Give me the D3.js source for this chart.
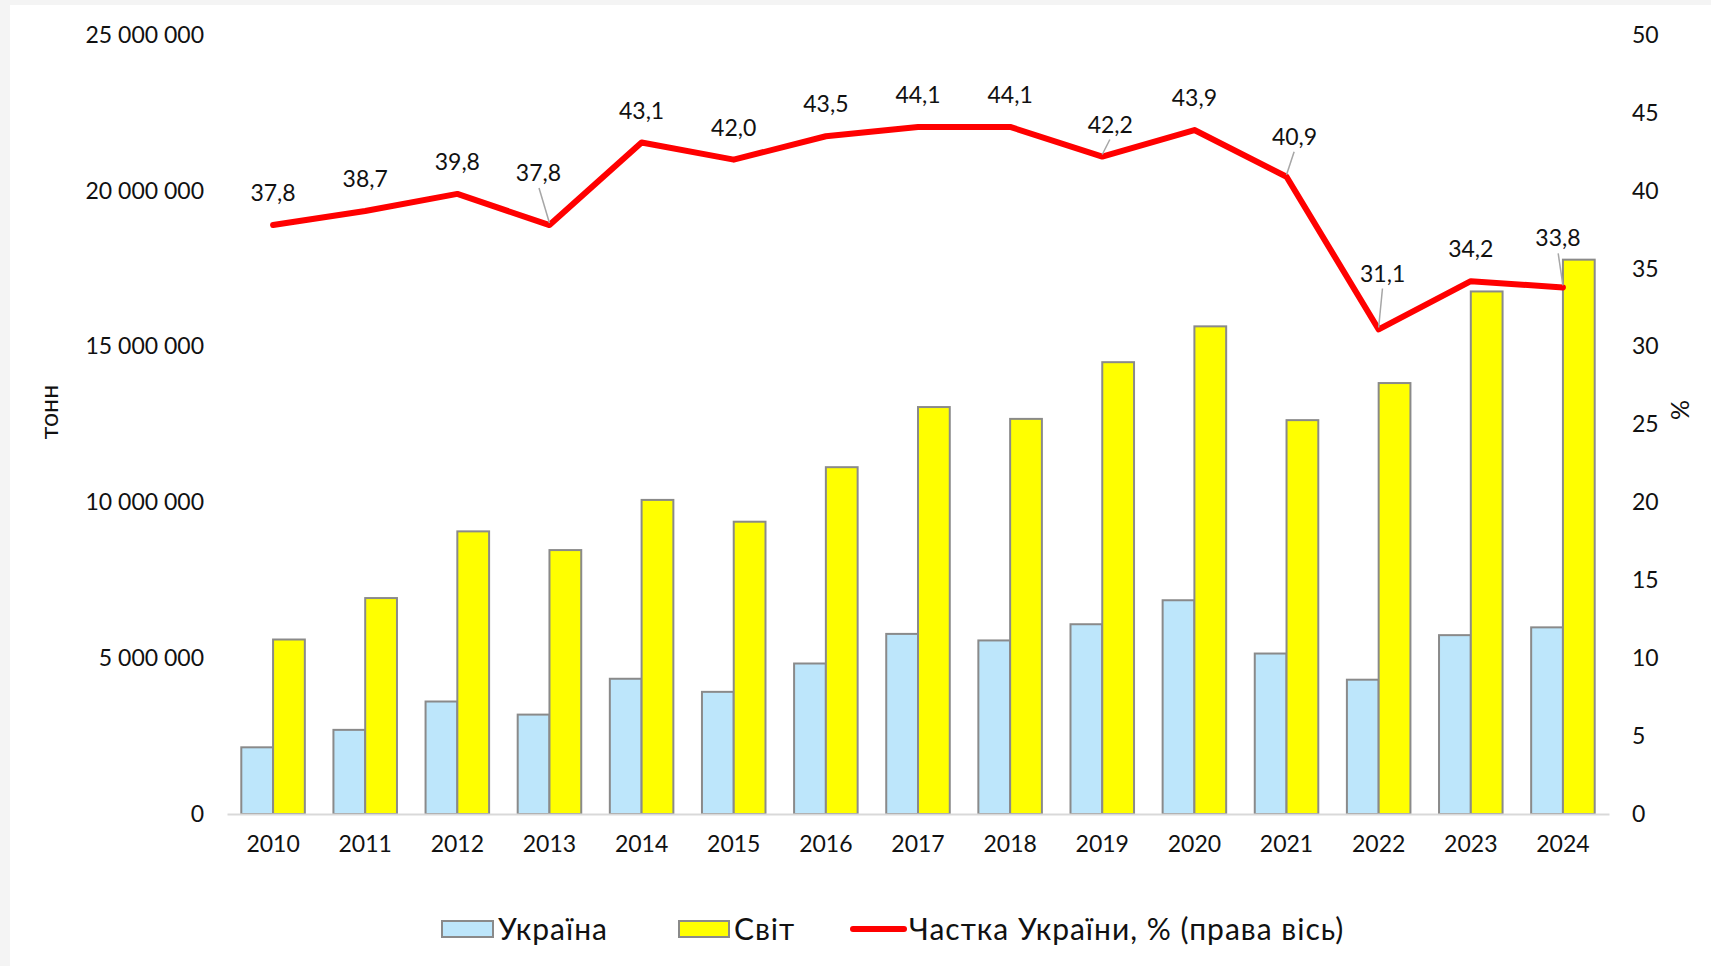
<!DOCTYPE html>
<html>
<head>
<meta charset="utf-8">
<script src="https://cdn.jsdelivr.net/npm/d3@7"></script>
<style>
  html, body { margin: 0; padding: 0; background: #f4f4f4; }
  svg { display: block; font-family: "Lato", "Open Sans", sans-serif; }
</style>
</head>
<body>
<svg id="chart"></svg>
<script>
// categories & series
const years = ["2010","2011","2012","2013","2014","2015","2016","2017","2018","2019","2020","2021","2022","2023","2024"];
const ukraine = [2140000, 2700000, 3610000, 3190000, 4340000, 3920000, 4830000, 5780000, 5570000, 6090000, 6860000, 5150000, 4310000, 5740000, 5990000];
const world = [5600000, 6930000, 9070000, 8470000, 10080000, 9380000, 11130000, 13060000, 12680000, 14500000, 15650000, 12640000, 13830000, 16770000, 17790000];
const share = [37.8, 38.7, 39.8, 37.8, 43.1, 42.0, 43.5, 44.1, 44.1, 42.2, 43.9, 40.9, 31.1, 34.2, 33.8];

const leftTicks = [0, 5000000, 10000000, 15000000, 20000000, 25000000];
const rightTicks = [0, 5, 10, 15, 20, 25, 30, 35, 40, 45, 50];
const legendLabels = ["Україна", "Світ", "Частка України, % (права вісь)"];

// label nudges (px) for the labels that Excel pushed away, with leader lines
const labelNudge = {"2013": [-11, -20], "2019": [8, 0], "2021": [8, -8], "2022": [4, -24], "2024": [-5, -17]};

const svgWidth = 1711, svgHeight = 966;
const plot = {left: 227, right: 1609, top: 35, bottom: 814};
const fs = 23;

const fmt = d => d3.format(",")(d).replace(/,/g, " ");
const fmtPct = d => d3.format(".1f")(d).replace(".", ",");

const chart = d3.select("#chart")
    .attr("width", svgWidth)
    .attr("height", svgHeight);

// white card
chart.append("rect")
    .attr("x", 10).attr("y", 5)
    .attr("width", svgWidth - 10).attr("height", svgHeight - 5)
    .attr("fill", "#fff");

var xScale = d3.scaleBand().domain(years).range([plot.left, plot.right]).padding(0);
var xSub = d3.scaleBand().domain(["ua", "world"]).range([0, xScale.bandwidth()]).paddingInner(0).paddingOuter(0.45);
var yLeft = d3.scaleLinear().domain([0, 25000000]).range([plot.bottom, plot.top]);
var yRight = d3.scaleLinear().domain([0, 50]).range([plot.bottom, plot.top]);

// left axis
var leftAxis = chart.append("g")
    .attr("transform", "translate(" + (plot.left - 23) + ",0)")
    .call(d3.axisLeft(yLeft).tickValues(leftTicks).tickFormat(fmt).tickSize(0).tickPadding(0));
leftAxis.select(".domain").remove();
leftAxis.selectAll("text").attr("font-size", fs).attr("fill", "#111").attr("font-family", "Lato");

// right axis
var rightAxis = chart.append("g")
    .attr("transform", "translate(" + (plot.right + 23) + ",0)")
    .call(d3.axisRight(yRight).tickValues(rightTicks).tickSize(0).tickPadding(0));
rightAxis.select(".domain").remove();
rightAxis.selectAll("text").attr("font-size", fs).attr("fill", "#111").attr("font-family", "Lato");

// bars
var groups = chart.append("g").selectAll("g")
    .data(years)
    .enter().append("g")
    .attr("transform", d => "translate(" + xScale(d) + ",0)");

groups.append("rect")
    .attr("x", xSub("ua"))
    .attr("width", xSub.bandwidth())
    .attr("y", (d, i) => yLeft(ukraine[i]))
    .attr("height", (d, i) => yLeft(0) - yLeft(ukraine[i]))
    .attr("fill", "#bde6fb")
    .attr("stroke", "#8a8a8a")
    .attr("stroke-width", 2);

groups.append("rect")
    .attr("x", xSub("world"))
    .attr("width", xSub.bandwidth())
    .attr("y", (d, i) => yLeft(world[i]))
    .attr("height", (d, i) => yLeft(0) - yLeft(world[i]))
    .attr("fill", "#ffff00")
    .attr("stroke", "#8a8a8a")
    .attr("stroke-width", 2);

// x axis
var xAxis = chart.append("g")
    .attr("transform", "translate(0," + plot.bottom + ")")
    .call(d3.axisBottom(xScale).tickSize(0).tickPadding(22));
xAxis.select(".domain").attr("stroke", "#d9d9d9").attr("stroke-width", 2);
xAxis.selectAll("text").attr("font-size", fs).attr("fill", "#111").attr("font-family", "Lato");

// share line
var cx = d => xScale(d) + xScale.bandwidth() / 2;
var valueline = d3.line()
    .x(d => cx(d.year))
    .y(d => yRight(d.value));

var lineData = years.map((y, i) => ({year: y, value: share[i]}));

chart.append("path")
    .datum(lineData)
    .attr("d", valueline)
    .attr("fill", "none")
    .attr("stroke", "#ff0000")
    .attr("stroke-width", 6)
    .attr("stroke-linejoin", "round")
    .attr("stroke-linecap", "round");

// data labels
var labels = chart.append("g");
lineData.forEach(d => {
    var n = labelNudge[d.year] || [0, 0];
    var px = cx(d.year), py = yRight(d.value);
    var lx = px + n[0], ly = py - 32 + n[1];
    if (labelNudge[d.year]) {
        labels.append("line")
            .attr("x1", lx + (px - lx) * 0.05).attr("y1", ly + 15)
            .attr("x2", px).attr("y2", py - 2)
            .attr("stroke", "#a6a6a6").attr("stroke-width", 1.5);
    }
    labels.append("text")
        .attr("x", lx).attr("y", ly)
        .attr("dy", "0.35em")
        .attr("text-anchor", "middle")
        .attr("font-size", fs)
        .attr("fill", "#111")
        .text(fmtPct(d.value));
});

// axis titles
chart.append("text")
    .attr("transform", "translate(49,412) rotate(-90)")
    .attr("text-anchor", "middle")
    .attr("dy", "0.35em")
    .attr("font-size", 25)
    .attr("fill", "#111")
    .text("тонн");

chart.append("text")
    .attr("transform", "translate(1680,410) rotate(90)")
    .attr("text-anchor", "middle")
    .attr("dy", "0.35em")
    .attr("font-size", 25)
    .attr("fill", "#111")
    .text("%");

// legend
var legend = chart.append("g").attr("transform", "translate(0,929)")
    .attr("font-size", 30).attr("letter-spacing", 1).attr("fill", "#111");
legend.append("rect").attr("x", 442).attr("y", -8).attr("width", 51).attr("height", 16)
    .attr("fill", "#bde6fb").attr("stroke", "#8a8a8a").attr("stroke-width", 2);
legend.append("text").attr("x", 498).attr("dy", "0.35em").text(legendLabels[0]);

legend.append("rect").attr("x", 679).attr("y", -8).attr("width", 50).attr("height", 16)
    .attr("fill", "#ffff00").attr("stroke", "#8a8a8a").attr("stroke-width", 2);
legend.append("text").attr("x", 734).attr("dy", "0.35em").text(legendLabels[1]);

legend.append("line").attr("x1", 853).attr("x2", 904).attr("y1", 0).attr("y2", 0)
    .attr("stroke", "#ff0000").attr("stroke-width", 6).attr("stroke-linecap", "round");
legend.append("text").attr("x", 909).attr("dy", "0.35em").text(legendLabels[2]);
</script>
</body>
</html>
